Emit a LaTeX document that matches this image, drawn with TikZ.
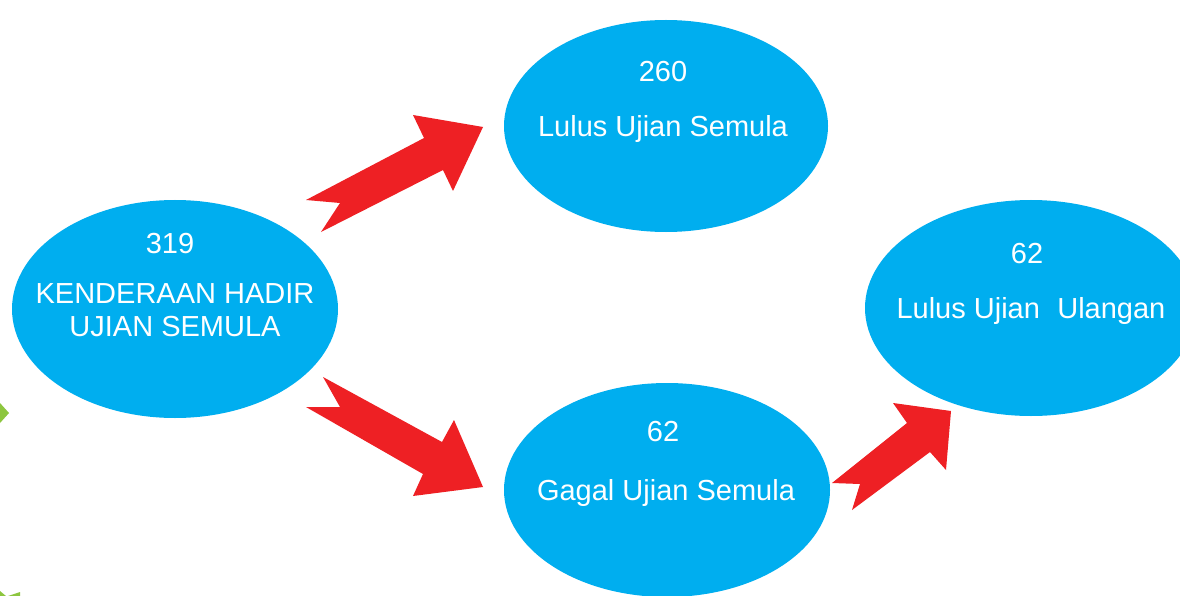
\documentclass[tikz,border=0pt]{standalone}
\usepackage{fontspec}
\setmainfont{Liberation Sans}
\usetikzlibrary{shapes.geometric}
\definecolor{cblue}{HTML}{00AEEF}
\definecolor{cred}{HTML}{EE2024}
\definecolor{cgreen}{HTML}{8DC63F}
\tikzset{
  blob/.style={ellipse, fill=cblue, draw=none, inner sep=0pt},
  lbl/.style={text=white, anchor=base, inner sep=0pt, font=\fontsize{29}{34}\selectfont},
  bigarrow/.style={fill=cred, draw=none}
}
\begin{document}
\begin{tikzpicture}[x=1pt, y=-1pt]
\useasboundingbox (0,0) rectangle (1180,596);
\clip (0,0) rectangle (1180,596);
\fill[white] (0,0) rectangle (1180,596);
% green fragments at left edge
\fill[cgreen] (0,403) -- (9,413) -- (0,423) -- cycle;
\fill[cgreen] (0,591) -- (6,596) -- (0,596) -- cycle;
\fill[cgreen] (8,596) -- (20,592) -- (20,596) -- cycle;
% ellipses
\node[blob, minimum width=326pt, minimum height=218pt] (start) at (175,309) {};
\node[blob, minimum width=324pt, minimum height=212pt] (pass) at (666,126) {};
\node[blob, minimum width=326pt, minimum height=214pt] (fail) at (667,490) {};
\node[blob, minimum width=332pt, minimum height=216pt] (repass) at (1031,308) {};
% labels
\node[lbl] (t1) at (170,253) {319};
\node[lbl] (t2) at (175,303) {KENDERAAN HADIR};
\node[lbl] (t3) at (175,336) {UJIAN SEMULA};
\node[lbl] (t4) at (663,82) {260};
\node[lbl] (t5) at (663,137) {Lulus Ujian Semula};
\node[lbl] (t6) at (663,441) {62};
\node[lbl] (t7) at (666,500) {Gagal Ujian Semula};
\node[lbl] (t8) at (1027,263) {62};
\node[lbl] (t9) at (1031,318) {Lulus Ujian\hspace{0.6em}Ulangan};
% block arrows
\fill[bigarrow] (306,200) -- (424,138) -- (413,115) -- (483,127) -- (453,191) -- (443,170) -- (321,232) -- (340,203) -- cycle;
\fill[bigarrow] (323,377) -- (442,442) -- (454,420) -- (483,487) -- (413,496) -- (423,474) -- (306,407) -- (340,407) -- cycle;
\fill[bigarrow] (832,483) -- (907,423) -- (893,403) -- (951,411) -- (946,470) -- (930,452) -- (852,510) -- (860,484) -- cycle;
\end{tikzpicture}
\end{document}
